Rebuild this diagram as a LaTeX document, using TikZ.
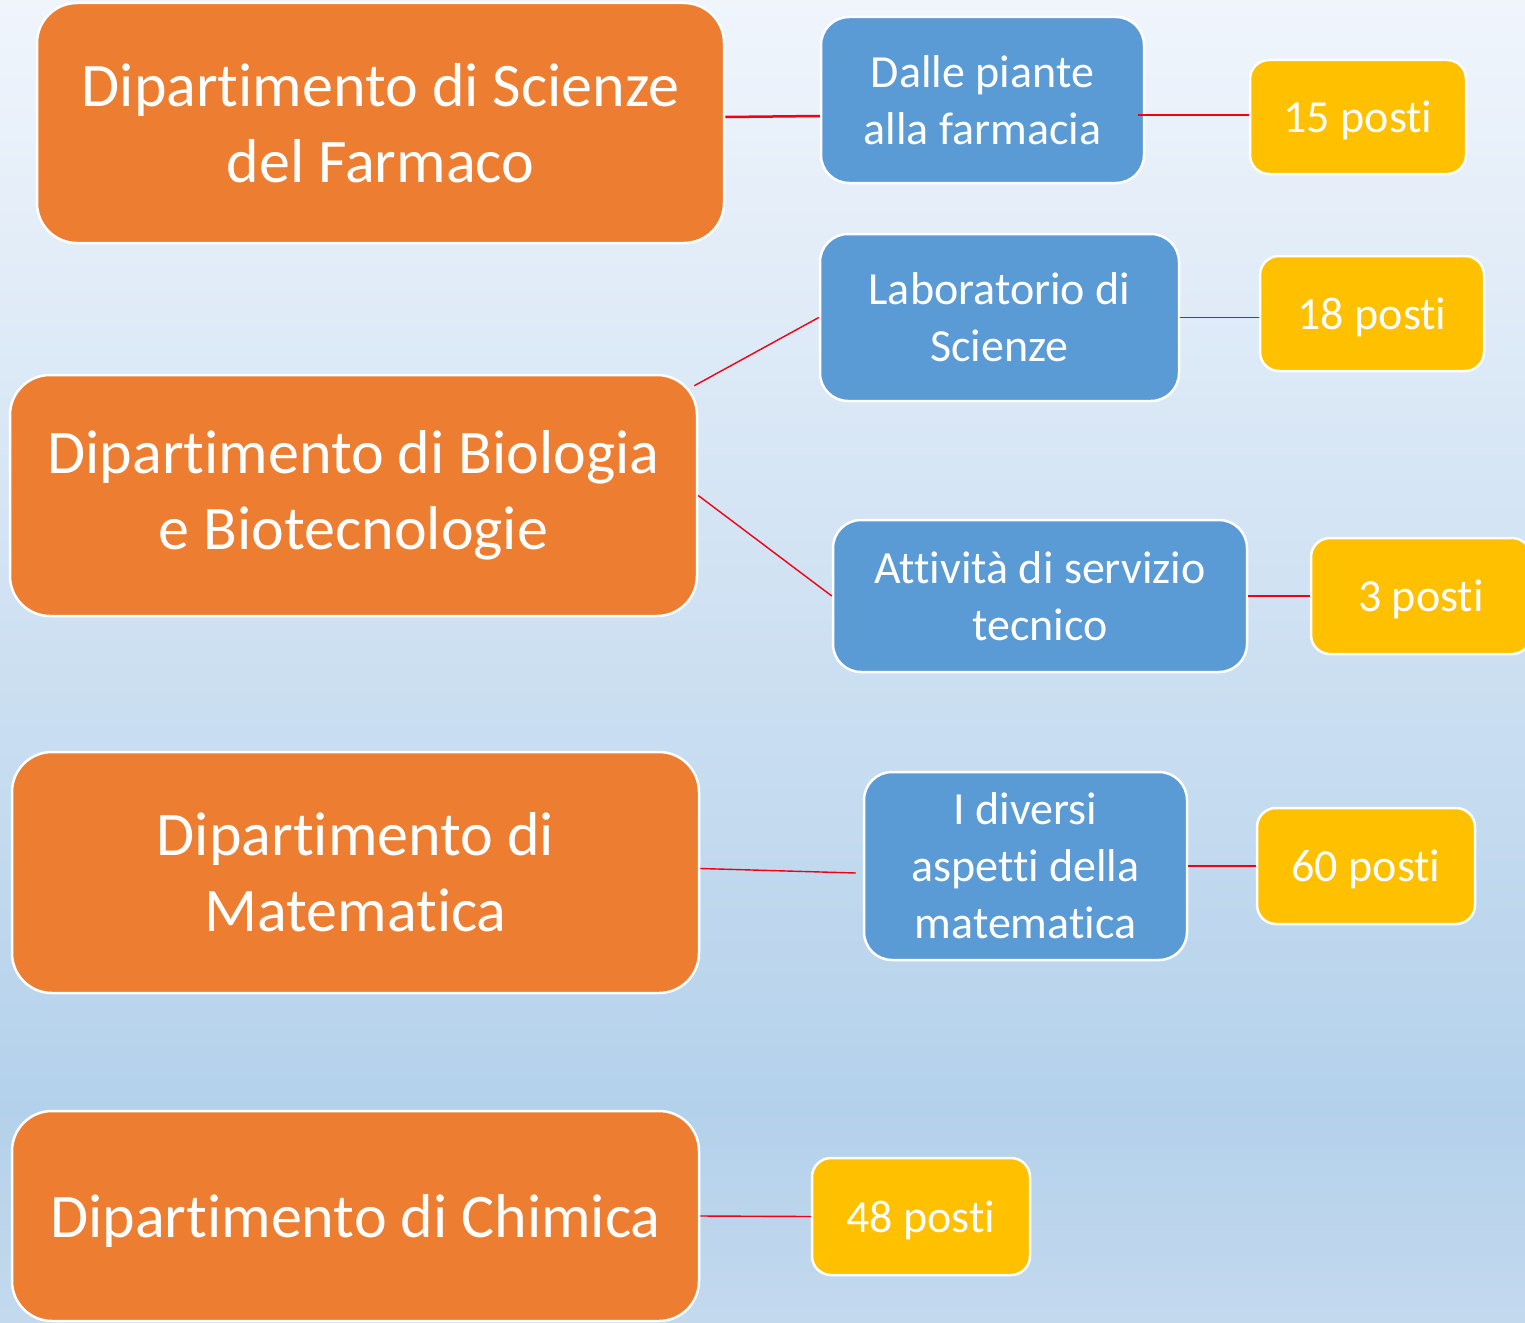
\documentclass[tikz,border=0pt]{standalone}
\usepackage{fontspec}
\setmainfont{Carlito}[Ligatures=NoCommon, Contextuals=NoAlternate]
\usetikzlibrary{calc}
\definecolor{orng}{HTML}{ED7D31}
\definecolor{blu}{HTML}{5B9BD5}
\definecolor{yel}{HTML}{FFC000}
\definecolor{bgtop}{HTML}{F0F5FC}
\definecolor{bgmid}{HTML}{B4D1EB}
\definecolor{bgbot}{HTML}{C3D9EE}
\definecolor{lnk}{HTML}{F00010}
\pgfdeclareverticalshading{bgshade}{100bp}{color(0bp)=(bgbot); color(25bp)=(bgbot); color(33bp)=(bgmid); color(75bp)=(bgtop); color(100bp)=(bgtop)}
\tikzset{
  box/.style={draw=white, line width=2.5pt, text=white, align=center, inner sep=0pt},
  dept/.style={box, fill=orng, minimum width=687pt, minimum height=240pt, rounded corners=40pt, font=\fontsize{62}{76}\selectfont},
  course/.style={box, fill=blu, rounded corners=28pt, font=\fontsize{46}{57}\selectfont},
  seats/.style={box, fill=yel, rounded corners=19pt, minimum width=216pt, minimum height=115pt, font=\fontsize{46}{56}\selectfont, text height=33pt, text depth=2pt},
  link/.style={draw=lnk, line width=1.4pt},
  biglink/.style={draw=lnk, line width=2.5pt}
}
\begin{document}
\begin{tikzpicture}[x=1pt,y=-1pt]
\useasboundingbox (0,0) rectangle (1525,1322);
\shade[shading=bgshade] (0,0) rectangle (1525,1322);
\begin{scope}
\clip (0,0) rectangle (1525,1322);
% departments
\node[dept] (o1) at (380.5,123) {Dipartimento di Scienze\\del Farmaco};
\node[dept, minimum height=241pt] (o2) at (353.5,495.5) {Dipartimento di Biologia\\e Biotecnologie};
\node[dept, minimum height=241pt] (o3) at (355.5,872.5) {Dipartimento di\\Matematica};
\node[dept, minimum height=210pt, text height=45pt, text depth=3pt] (o4) at (355.5,1216) {Dipartimento di Chimica};
% courses
\node[course, minimum width=323pt, minimum height=166pt] (b1) at (982.5,100) {Dalle piante\\alla farmacia};
\node[course, minimum width=359pt, minimum height=167pt] (b2) at (999.5,317.5) {Laboratorio di\\Scienze};
\node[course, minimum width=414pt, minimum height=152pt] (b3) at (1040,596) {Attività di servizio\\tecnico};
\node[course, minimum width=323pt, minimum height=188pt] (b4) at (1025.5,866) {I diversi\\aspetti della\\matematica};
% seats
\node[seats, minimum height=114pt] (y1) at (1358,117) {15 posti};
\node[seats, minimum width=224pt] (y2) at (1372,313.5) {18 posti};
\node[seats, minimum width=220pt, minimum height=116pt] (y3) at (1421,596) {3 posti};
\node[seats, minimum width=218pt, minimum height=116pt] (y4) at (1366,866) {60 posti};
\node[seats, minimum width=218pt, minimum height=117pt] (y5) at (921,1216.5) {48 posti};
% connectors
\draw[biglink] ([yshift=6pt]o1.east) -- ([yshift=-16pt]b1.west);
\draw[biglink] ([xshift=-7pt,yshift=-15pt]b1.east) -- ([yshift=2pt]y1.west);
\draw[link] ([xshift=-4pt,yshift=-12pt]o2.north east) -- (b2.west);
\draw[link] (b2.east) -- ([yshift=-4pt]y2.west);
\draw[link] (o2.east) -- (b3.west);
\draw[link] (b3.east) -- (y3.west);
\draw[link] ([yshift=4pt]o3.east) -- ([xshift=-7pt,yshift=-7pt]b4.west);
\draw[link] (b4.east) -- (y4.west);
\draw[link] (o4.east) -- (y5.west);
\end{scope}
\end{tikzpicture}
\end{document}
